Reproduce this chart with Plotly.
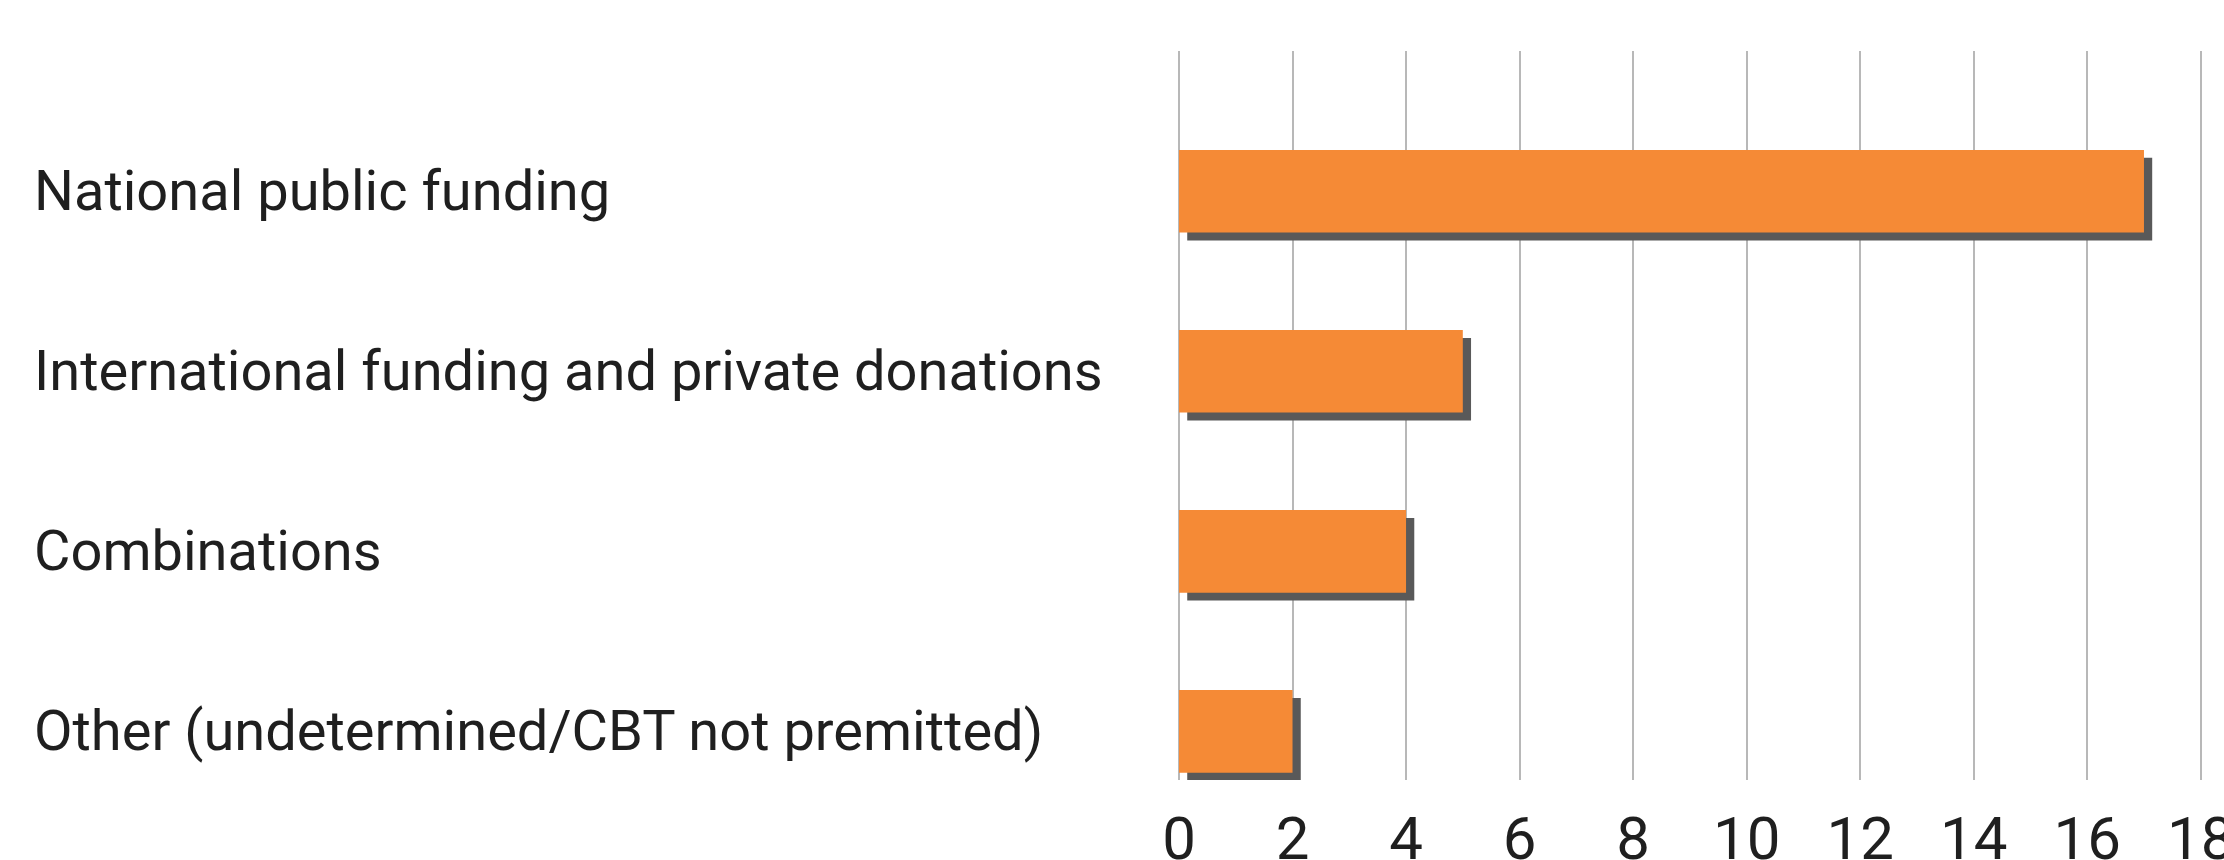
import plotly.graph_objects as go

categories = [
    "National public funding",
    "International funding and private donations",
    "Combinations",
    "Other (undetermined/CBT not premitted)",
]
values = [17, 5, 4, 2]
tick_vals = [0, 2, 4, 6, 8, 10, 12, 14, 16, 18]
tick_text = [str(v) for v in tick_vals]

ORANGE = "#F58A36"
SHADOW = "#595959"
GRID = "#B8B8B8"
TEXT = "#1F1F1F"
FONT = "Roboto"

W, H = 2224, 860
L, R, T, B = 1179, 21, 51, 80
X_MAX = 18.04

bar_w = 0.459
fig = go.Figure()
# shadow
fig.add_trace(go.Bar(
    x=values, y=categories, orientation="h", base=0.145,
    width=bar_w, offset=-bar_w / 2 + 0.044,
    marker=dict(color=SHADOW, line=dict(width=0)),
    hoverinfo="skip", showlegend=False,
))
# main bar
fig.add_trace(go.Bar(
    x=values, y=categories, orientation="h",
    width=bar_w, offset=-bar_w / 2,
    marker=dict(color=ORANGE, line=dict(width=0)),
    showlegend=False,
))

plot_w = W - L - R
for c in categories:
    fig.add_annotation(
        x=-(L - 32) / plot_w, xref="paper", y=c, yref="y",
        text=c, showarrow=False, xanchor="left", yanchor="middle",
        font=dict(family=FONT, size=56, color=TEXT),
    )

fig.update_layout(
    width=W, height=H,
    margin=dict(l=L, r=R, t=T, b=B, pad=0, autoexpand=False),
    paper_bgcolor="white", plot_bgcolor="white",
    barmode="overlay",
    xaxis=dict(
        range=[0, X_MAX], tickvals=tick_vals, ticktext=tick_text,
        showgrid=True, gridcolor=GRID, gridwidth=2,
        zeroline=True, zerolinecolor=GRID, zerolinewidth=2,
        showline=False, ticks="",
        tickfont=dict(family=FONT, size=60, color=TEXT),
        ticklabelstandoff=18, ticklabeloverflow="allow",
        automargin=False, fixedrange=True,
    ),
    yaxis=dict(
        type="category", categoryorder="array", categoryarray=categories,
        range=[3.27, -0.779], autorange=False,
        showticklabels=False, showgrid=False, zeroline=False, showline=False,
        ticks="", automargin=False, fixedrange=True,
    ),
)

fig.write_html(
    "out.html",
    config={"displayModeBar": False},
    post_script="document.body.style.margin='0';document.body.style.overflow='hidden';",
)
